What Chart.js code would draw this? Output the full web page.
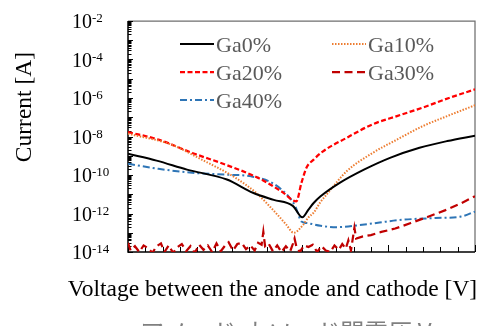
<!DOCTYPE html>
<html>
<head>
<meta charset="utf-8">
<script src="https://cdn.jsdelivr.net/npm/chart.js@4/dist/chart.umd.min.js"></script>
<style>
  html, body { margin: 0; padding: 0; background: #ffffff; }
  #wrap { width: 482px; height: 326px; position: relative; }
</style>
</head>
<body>
<div id="wrap"><canvas id="c" width="482" height="326"></canvas></div>
<script>
// Series names
const seriesNames = ['Ga0%', 'Ga10%', 'Ga20%', 'Ga30%', 'Ga40%'];

// Anode-cathode voltage [V] and measured current [A] for each Ga content
const voltGa0 = [-10, -8.35, -6.6, -4.3, -2.8, -1.6, -0.5, 0.05, 0.4, 0.7, 1.1, 2.2, 3.6, 5.1, 6.8, 8.4, 10];
const currGa0 = [1.26e-9, 5.6e-10, 1.9e-10, 5.8e-11, 1.2e-11, 5.1e-12, 2.5e-12, 6.3e-13, 1.6e-12, 3.5e-12, 7.8e-12, 3.9e-11, 1.9e-10, 7.8e-10, 2.6e-9, 5.8e-9, 1.1e-8];

const voltGa10 = [-10, -7.5, -5.75, -3.8, -2.6, -1.6, -0.9, -0.45, 0.1, 0.4, 0.7, 1.1, 1.5, 2.6, 4.1, 5.5, 7.0, 8.4, 10];
const currGa10 = [1.4e-8, 3.8e-9, 6.3e-10, 7.1e-11, 1.15e-11, 1.4e-12, 2.8e-13, 1.0e-13, 2.6e-13, 6.3e-13, 1.1e-12, 4.0e-12, 1.1e-11, 1.55e-10, 1.4e-9, 6.9e-9, 3.5e-8, 1.15e-7, 4.2e-7];

const voltGa20 = [-10, -8.25, -6.3, -4.4, -2.5, -1.15, -0.3, 0.0, 0.3, 0.7, 1.2, 2.6, 4.1, 5.5, 7.0, 8.5, 10];
const currGa20 = [1.7e-8, 6.9e-9, 1.4e-9, 3.5e-10, 7.1e-11, 1.4e-11, 4.3e-12, 4.0e-11, 2.5e-10, 6.3e-10, 1.6e-9, 8.5e-9, 4.3e-8, 1.15e-7, 3.2e-7, 1.0e-6, 2.8e-6];

const voltGa30 = [-10.0, -9.85, -9.6, -9.35, -9.1, -8.85, -8.6, -8.35, -8.1, -7.9, -7.65, -7.4, -7.15, -6.9, -6.65, -6.4, -6.15, -5.9, -5.65, -5.4, -5.15, -4.9, -4.65, -4.4, -4.2, -3.95, -3.7, -3.45, -3.2, -2.95, -2.7, -2.5, -2.3, -2.2, -2.1, -1.9, -1.65, -1.4, -1.15, -0.9, -0.65, -0.5, -0.4, -0.3, -0.1, 0.15, 0.4, 0.65, 0.9, 1.15, 1.4, 1.65, 1.9, 2.15, 2.35, 2.55, 2.7, 2.85, 3.05, 3.15, 3.5, 4.0, 4.6, 5.4, 6.3, 7.3, 8.3, 9.2, 10.0];
const currGa30 = [3.0e-14, 1.2e-14, 2.0e-14, 1.0e-14, 2.2e-14, 1.6e-14, 9.0e-15, 2.0e-14, 2.8e-14, 1.0e-14, 2.2e-14, 9.0e-15, 1.8e-14, 2.6e-14, 1.1e-14, 2.0e-14, 9.0e-15, 2.4e-14, 1.3e-14, 2.2e-14, 1.0e-14, 2.8e-14, 1.1e-14, 2.2e-14, 3.2e-14, 1.2e-14, 2.6e-14, 3.0e-14, 1.4e-14, 2.2e-14, 1.2e-14, 3.0e-14, 2.4e-14, 1.1e-13, 2.0e-14, 2.8e-14, 1.1e-14, 2.2e-14, 1.0e-14, 2.0e-14, 1.1e-14, 2.6e-14, 5.0e-14, 2.0e-14, 1.0e-14, 2.2e-14, 1.8e-14, 2.4e-14, 1.0e-14, 2.0e-14, 1.2e-14, 1.0e-14, 2.2e-14, 1.3e-14, 2.6e-14, 1.5e-14, 4.0e-14, 1.2e-14, 1.8e-13, 5.0e-14, 6.3e-14, 7.6e-14, 1.1e-13, 1.66e-13, 3.2e-13, 6.8e-13, 1.5e-12, 3.4e-12, 7.9e-12];

const voltGa40 = [-10, -8.25, -6.3, -4.4, -2.9, -1.7, -0.75, -0.35, 0.0, 0.3, 1.1, 2.0, 3.5, 4.5, 5.8, 7.7, 9.2, 10];
const currGa40 = [3.8e-10, 2.1e-10, 1.3e-10, 1.05e-10, 8.5e-11, 3.9e-11, 7.8e-12, 2.3e-12, 3.8e-13, 3.2e-13, 2.3e-13, 1.95e-13, 2.6e-13, 3.4e-13, 4.7e-13, 5.8e-13, 6.9e-13, 1.26e-12];

// Axis ranges and tick labels
const xMin = -10, xMax = 10;
const xTickValues = [-10, -9, -8, -7, -6, -5, -4, -3, -2, -1, 0, 1, 2, 3, 4, 5, 6, 7, 8, 9, 10];
const yMin = 1e-14, yMax = 1e-2;
const yTickExponents = [-2, -4, -6, -8, -10, -12, -14];

const xTitle = 'Voltage between the anode and cathode [V]';
const yTitle = 'Current [A]';
const jpTitle = 'アノード-カソード間電圧 V';

function pts(xs, ys) { return xs.map((x, i) => ({ x: x, y: ys[i] })); }

const SERIF = '"Liberation Serif", "Times New Roman", serif';

const datasets = [
  { label: seriesNames[0], data: pts(voltGa0, currGa0), borderColor: '#000000', borderWidth: 2, borderDash: [], cubicInterpolationMode: 'monotone' },
  { label: seriesNames[1], data: pts(voltGa10, currGa10), borderColor: '#ED7D31', borderWidth: 2, borderDash: [1.5, 1.5], cubicInterpolationMode: 'monotone' },
  { label: seriesNames[2], data: pts(voltGa20, currGa20), borderColor: '#FF0000', borderWidth: 2.25, borderDash: [5, 2.5], cubicInterpolationMode: 'monotone' },
  { label: seriesNames[3], data: pts(voltGa30, currGa30), borderColor: '#C00000', borderWidth: 2.25, borderDash: [8, 4.5], tension: 0 },
  { label: seriesNames[4], data: pts(voltGa40, currGa40), borderColor: '#2E75B6', borderWidth: 2, borderDash: [7, 3, 2, 3], cubicInterpolationMode: 'monotone' }
];
datasets.forEach(d => { d.pointRadius = 0; d.fill = false; d.clip = 0; });

// Frame, inward ticks, labels and the in-plot legend
const framePlugin = {
  id: 'frame',
  beforeDraw(chart) {
    const ctx = chart.ctx;
    ctx.save();
    ctx.fillStyle = '#ffffff';
    ctx.fillRect(0, 0, chart.width, chart.height);
    ctx.restore();
  },
  beforeDatasetsDraw(chart) {
    const ctx = chart.ctx, a = chart.chartArea;
    const xs = chart.scales.x, ys = chart.scales.y;
    ctx.save();
    // grey top/right border
    ctx.strokeStyle = '#6f6f6f';
    ctx.lineWidth = 1.25;
    ctx.beginPath();
    ctx.moveTo(a.left, a.top); ctx.lineTo(a.right, a.top); ctx.lineTo(a.right, a.bottom);
    ctx.stroke();
    // x ticks (inward)
    ctx.strokeStyle = '#000000';
    ctx.lineWidth = 1;
    xTickValues.forEach(v => {
      const px = Math.round(xs.getPixelForValue(v)) + 0.5;
      const len = (v % 5 === 0) ? 7 : 5;
      ctx.beginPath(); ctx.moveTo(px, a.bottom); ctx.lineTo(px, a.bottom - len); ctx.stroke();
    });
    // y ticks (inward): decades and minor
    for (let e = -14; e <= -2; e++) {
      const py = Math.round(ys.getPixelForValue(Math.pow(10, e))) + 0.5;
      ctx.beginPath(); ctx.moveTo(a.left, py); ctx.lineTo(a.left + 5, py); ctx.stroke();
      if (e < -2) {
        for (let m = 2; m <= 9; m++) {
          const my = Math.round(ys.getPixelForValue(m * Math.pow(10, e))) + 0.5;
          ctx.beginPath(); ctx.moveTo(a.left, my); ctx.lineTo(a.left + 3.5, my); ctx.stroke();
        }
      }
    }
    // black left and bottom axes
    ctx.lineWidth = 1.5;
    ctx.beginPath();
    ctx.moveTo(a.left, a.top); ctx.lineTo(a.left, a.bottom); ctx.lineTo(a.right, a.bottom);
    ctx.stroke();
    ctx.restore();
  },
  afterDraw(chart) {
    const ctx = chart.ctx, ys = chart.scales.y;
    ctx.save();
    // y tick labels 10^n
    ctx.fillStyle = '#000000';
    ctx.textAlign = 'left';
    ctx.textBaseline = 'alphabetic';
    yTickExponents.forEach(e => {
      const py = ys.getPixelForValue(Math.pow(10, e));
      ctx.font = '20px ' + SERIF;
      ctx.fillText('10', 72, py + 7);
      const w = ctx.measureText('10').width;
      ctx.font = '13px ' + SERIF;
      ctx.fillText(String(e), 72 + w, py + 1);
    });
    // axis titles
    ctx.font = '23.5px ' + SERIF;
    ctx.textAlign = 'center';
    ctx.fillText(xTitle, 272.5, 296);
    ctx.save();
    ctx.translate(31, 107);
    ctx.rotate(-Math.PI / 2);
    ctx.fillText(yTitle, 0, 0);
    ctx.restore();
    // Japanese caption below (runs off the bottom edge)
    ctx.font = '24px "Noto Sans CJK JP"';
    ctx.fillStyle = '#808080';
    ctx.textAlign = 'left';
    ctx.fillText(jpTitle, 140, 341);
    // legend
    const slots = [[180, 44], [332, 44], [180, 72], [332, 72], [180, 100]];
    chart.data.datasets.forEach((d, i) => {
      const [lx, ly] = slots[i];
      ctx.strokeStyle = d.borderColor;
      ctx.lineWidth = d.borderWidth;
      ctx.setLineDash(d.borderDash || []);
      ctx.beginPath(); ctx.moveTo(lx, ly); ctx.lineTo(lx + 34, ly); ctx.stroke();
      ctx.setLineDash([]);
      ctx.fillStyle = '#595959';
      ctx.font = '22px ' + SERIF;
      ctx.textAlign = 'left';
      ctx.fillText(d.label, lx + 36, ly + 7.5);
    });
    ctx.restore();
  }
};

new Chart(document.getElementById('c'), {
  type: 'line',
  data: { datasets: datasets },
  options: {
    responsive: false,
    animation: false,
    devicePixelRatio: 1,
    layout: { padding: { left: 128, right: 7, top: 21, bottom: 74 } },
    plugins: { legend: { display: false }, tooltip: { enabled: false } },
    scales: {
      x: { type: 'linear', min: xMin, max: xMax, display: false },
      y: { type: 'logarithmic', min: yMin, max: yMax, display: false }
    }
  },
  plugins: [framePlugin]
});
</script>
</body>
</html>
